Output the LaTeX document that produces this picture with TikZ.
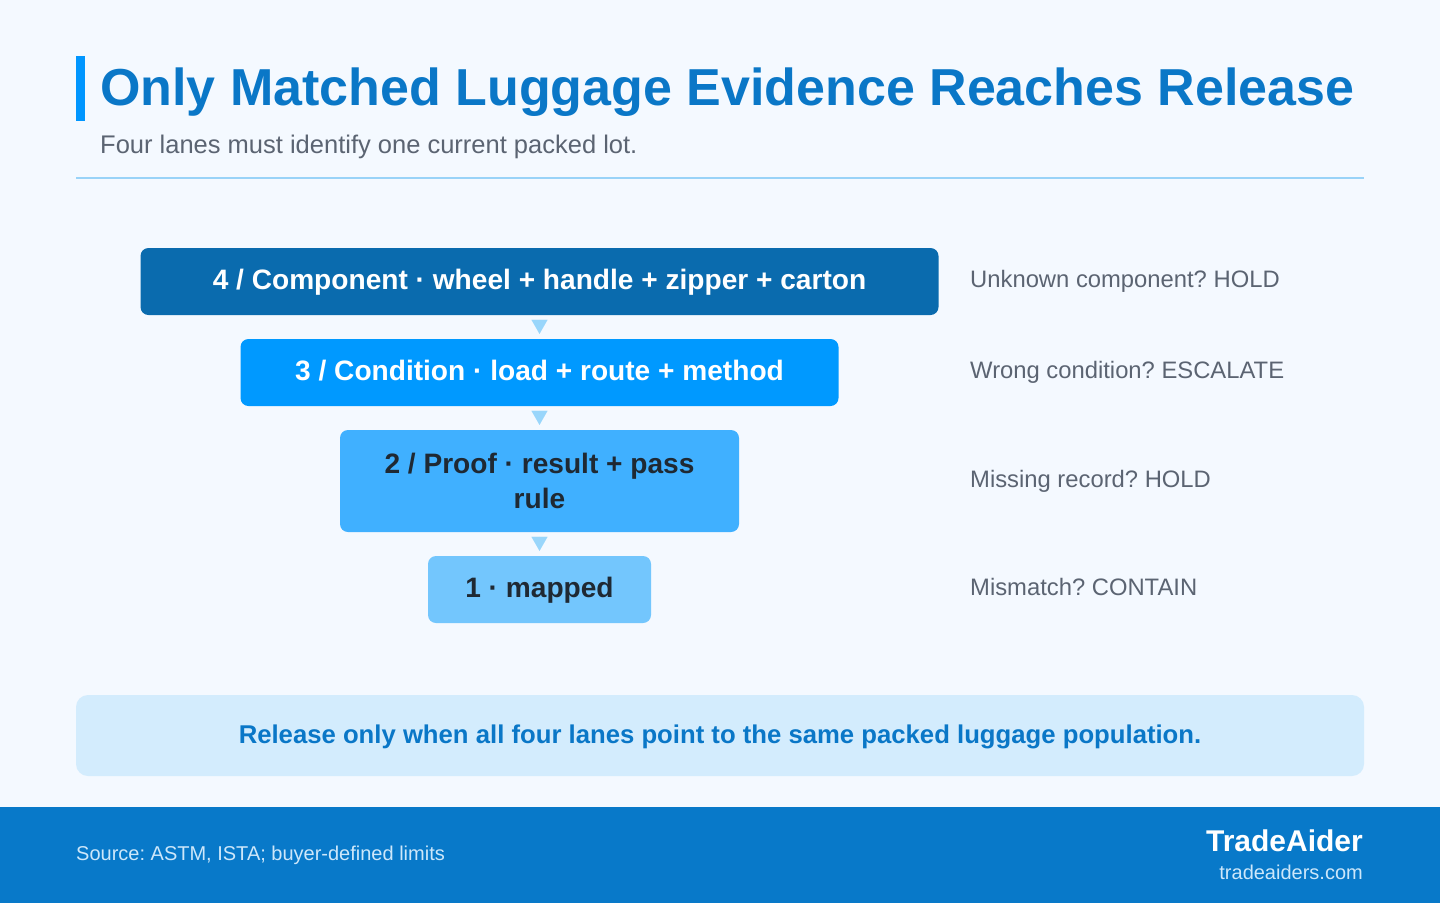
\documentclass[tikz,border=0pt]{standalone}
\usepackage{fontspec}
\setmainfont{Liberation Sans}
\usetikzlibrary{arrows.meta}
\frenchspacing

\definecolor{pagebg}{HTML}{F4F9FF}
\definecolor{accent}{HTML}{0096FF}
\definecolor{titleblue}{HTML}{0A77C7}
\definecolor{subgray}{HTML}{5B6472}
\definecolor{rulecol}{HTML}{99D3F8}
\definecolor{lanefour}{HTML}{0A6BAE}
\definecolor{lanethree}{HTML}{0099FF}
\definecolor{lanetwo}{HTML}{40B0FF}
\definecolor{laneone}{HTML}{73C6FD}
\definecolor{darktext}{HTML}{1F2933}
\definecolor{flowcol}{HTML}{99D6FB}
\definecolor{calloutbg}{HTML}{D3ECFD}
\definecolor{footbg}{HTML}{0879C9}
\definecolor{footlight}{HTML}{CDE7FA}

\begin{document}
\begin{tikzpicture}[x=1pt, y=-1pt,
  every lane/.style={rectangle, rounded corners=8pt, inner sep=0pt, align=center,
    font=\fontsize{28.1}{35}\selectfont\bfseries, minimum height=67pt},
  lane 4/.style={fill=lanefour, text=white, minimum width=798pt, text height=20pt, text depth=5pt},
  lane 3/.style={fill=lanethree, text=white, minimum width=598pt, text height=20pt, text depth=5pt},
  lane 2/.style={fill=lanetwo, text=darktext, minimum width=399pt, minimum height=102pt},
  lane 1/.style={fill=laneone, text=darktext, minimum width=223pt, text height=20pt, text depth=5pt},
  every note/.style={anchor=base west, inner sep=0pt, text=subgray, font=\fontsize{23.8}{28}\selectfont},
  flow/.style={-{Triangle[width=16pt,length=14pt]}, draw=flowcol, fill=flowcol,
    line width=0.1pt, shorten <=5pt, shorten >=5pt}]

\useasboundingbox (0,0) rectangle (1440,903);
\fill[pagebg] (0,0) rectangle (1440,903);

% heading
\fill[accent] (76,56) rectangle (85,121);
\node [anchor=base west, inner sep=0pt, text=titleblue, font=\fontsize{52}{60}\selectfont\bfseries]
  (title) at (100,105) {Only Matched Luggage Evidence Reaches Release};
\node [anchor=base west, inner sep=0pt, text=subgray, font=\fontsize{25.5}{30}\selectfont]
  (subtitle) at (100,153) {Four lanes must identify one current packed lot.};
\draw [rulecol, line width=2pt] (76,178) -- (1364,178);

% lanes
\node [every lane/.try, lane 4/.try] (lane-4) at (539.5,281.5)
  {4 / Component · wheel + handle + zipper + carton};
\node [every lane/.try, lane 3/.try] (lane-3) at (539.5,372.5)
  {3 / Condition · load + route + method};
\node [every lane/.try, lane 2/.try] (lane-2) at (539.5,481)
  {2 / Proof · result + pass\\rule};
\node [every lane/.try, lane 1/.try] (lane-1) at (539.5,589.5)
  {1 · mapped};

\foreach \i/\j in {4/3,3/2,2/1}
  \draw [flow] (lane-\i) -- (lane-\j);

\coordinate (notecol) at (970,0);
\foreach \m/\l in {4/Unknown component? HOLD, 3/Wrong condition? ESCALATE,
                   2/Missing record? HOLD, 1/Mismatch? CONTAIN}
  \node [every note/.try, yshift=-6pt] (note-\m) at (notecol |- lane-\m) {\l};

% release callout
\node [rectangle, rounded corners=12pt, fill=calloutbg, minimum width=1288pt, minimum height=81pt,
  text=titleblue, font=\fontsize{25.7}{30}\selectfont\bfseries, text height=18.5pt, text depth=3.1pt]
  (callout) at (720,735.5)
  {Release only when all four lanes point to the same packed luggage population.};

% footer
\fill[footbg] (0,807) rectangle (1440,903);
\node [anchor=base west, inner sep=0pt, text=footlight, font=\fontsize{20}{24}\selectfont]
  (source) at (76,860) {Source: ASTM, ISTA; buyer-defined limits};
\node [anchor=base east, inner sep=0pt, text=white, font=\fontsize{30}{34}\selectfont\bfseries]
  (brand) at (1363,851) {TradeAider};
\node [anchor=base east, inner sep=0pt, text=footlight, font=\fontsize{20}{24}\selectfont]
  (site) at (1363,879) {tradeaiders.com};
\end{tikzpicture}
\end{document}
